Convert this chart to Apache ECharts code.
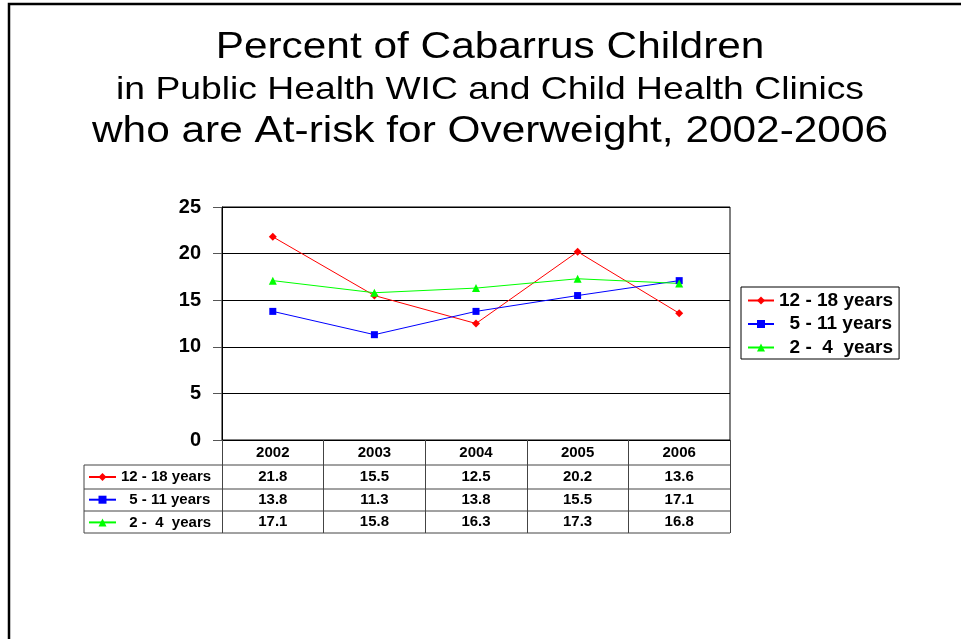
<!DOCTYPE html>
<html>
<head>
<meta charset="utf-8">
<script src="https://cdn.jsdelivr.net/npm/echarts@6/dist/echarts.min.js"></script>
<style>
html,body{margin:0;padding:0;background:#fff;}
#c{width:961px;height:639px;}
</style>
</head>
<body>
<div id="c"></div>
<script>
var titleLines = [
  'Percent of Cabarrus Children',
  'in Public Health WIC and Child Health Clinics',
  'who are At-risk for Overweight, 2002-2006'
];
var years = ['2002', '2003', '2004', '2005', '2006'];
var seriesNames = ['12 - 18 years', '  5 - 11 years', '  2 -  4  years'];
var teens = [21.8, 15.5, 12.5, 20.2, 13.6];
var schoolAge = [13.8, 11.3, 13.8, 15.5, 17.1];
var toddlers = [17.1, 15.8, 16.3, 17.3, 16.8];
var yTicks = [0, 5, 10, 15, 20, 25];

var FONT = '"Liberation Sans", Arial, sans-serif';
var allValues = [teens, schoolAge, toddlers];
var colors = ['#ff0000', '#0000ff', '#00ff00'];
var symbols = ['diamond', 'rect', 'triangle'];
var symbolSizes = [8, 7, 8];

var chart = echarts.init(document.getElementById('c'), null, {renderer: 'canvas'});

var xAxes = [{
  type: 'category',
  data: years,
  boundaryGap: true,
  position: 'bottom',
  axisLine: {show: true, lineStyle: {color: '#000', width: 1}},
  axisTick: {show: true, length: 93, interval: 0, lineStyle: {color: '#444', width: 1}},
  axisLabel: {interval: 0, margin: 12.5, verticalAlign: 'middle', fontFamily: FONT, fontWeight: 'bold', fontSize: 15, color: '#000'},
  splitLine: {show: false}
}];
var offsets = [24.5, 47.5, 69.5];
allValues.forEach(function (vals, k) {
  xAxes.push({
    type: 'category',
    data: years,
    position: 'bottom',
    offset: offsets[k],
    axisLine: {show: false},
    axisTick: {show: false},
    splitLine: {show: false},
    axisLabel: {
      interval: 0, margin: 12.5, verticalAlign: 'middle',
      fontFamily: FONT, fontWeight: 'bold', fontSize: 15, color: '#000',
      formatter: function (v, i) { return vals[i].toFixed(1); }
    }
  });
});

var series = allValues.map(function (vals, k) {
  return {
    name: seriesNames[k],
    type: 'line',
    data: vals,
    xAxisIndex: 0,
    yAxisIndex: 0,
    symbol: symbols[k],
    symbolSize: symbolSizes[k],
    showAllSymbol: true,
    lineStyle: {color: colors[k], width: 1},
    itemStyle: {color: colors[k]},
    emphasis: {disabled: true},
    animation: false
  };
});

var lineColor = '#444';
var tableGraphics = [];
[465, 489, 511, 533].forEach(function (y) {
  tableGraphics.push({type: 'line', shape: {x1: 84, y1: y, x2: 730, y2: y}, style: {stroke: lineColor, lineWidth: 1}});
});
tableGraphics.push({type: 'line', shape: {x1: 84, y1: 465, x2: 84, y2: 533}, style: {stroke: lineColor, lineWidth: 1}});

var titleY = [48.5, 90, 132];
var titleSize = [36, 32, 36];
var titleScale = [1.177, 1.165, 1.177];
var titleGraphics = titleLines.map(function (t, i) {
  return {
    type: 'text', x: 490, y: titleY[i], scaleX: titleScale[i], scaleY: 1,
    style: {
      text: t, font: titleSize[i] + 'px ' + FONT, fill: '#000',
      textAlign: 'center', textVerticalAlign: 'middle', align: 'center', verticalAlign: 'middle'
    }
  };
});

var option = {
  animation: false,
  backgroundColor: '#fff',
  grid: {left: 222, top: 207, right: 231, bottom: 199, show: true, borderColor: '#000', borderWidth: 1, backgroundColor: '#fff'},
  xAxis: xAxes,
  yAxis: {
    type: 'value', min: yTicks[0], max: yTicks[yTicks.length - 1], interval: 5,
    axisLine: {show: true, lineStyle: {color: '#000', width: 1}},
    axisTick: {show: true, length: 9, lineStyle: {color: '#555'}},
    axisLabel: {margin: 21, fontFamily: FONT, fontWeight: 'bold', fontSize: 20, color: '#000'},
    splitLine: {show: true, lineStyle: {color: '#000', width: 1}}
  },
  legend: [{
    orient: 'vertical', left: 741, top: 287,
    data: seriesNames,
    borderColor: '#000', borderWidth: 1, padding: [4, 6, 2, 6],
    itemWidth: 26, itemHeight: 10, itemGap: 4.5,
    selectedMode: false,
    textStyle: {fontFamily: FONT, fontWeight: 'bold', fontSize: 19, color: '#000'}
  }, {
    orient: 'vertical', left: 84, top: 469.5,
    data: seriesNames,
    padding: [0, 4],
    itemWidth: 27, itemHeight: 10, itemGap: 7.7,
    selectedMode: false,
    textStyle: {fontFamily: FONT, fontWeight: 'bold', fontSize: 15, color: '#000'}
  }],
  series: series,
  graphic: [
    {type: 'rect', shape: {x: 9, y: 4, width: 1200, height: 1200}, style: {fill: 'none', stroke: '#000', lineWidth: 2.5}, silent: true}
  ].concat(titleGraphics).concat(tableGraphics)
};
chart.setOption(option);
</script>
</body>
</html>
